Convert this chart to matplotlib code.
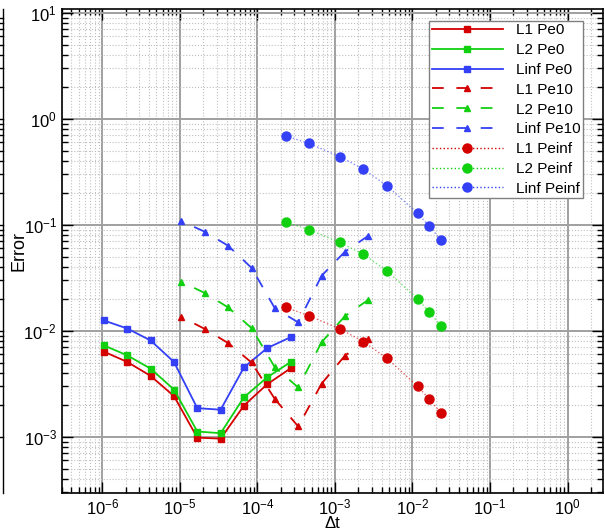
import numpy as np
import matplotlib.pyplot as plt
from matplotlib.lines import Line2D
from matplotlib.transforms import blended_transform_factory

plt.rcParams['font.family'] = ['Liberation Sans', 'DejaVu Sans']

# time steps
dt_pe0 = [1.05e-6, 2.1e-6, 4.2e-6, 8.4e-6, 1.68e-5, 3.36e-5, 6.72e-5, 1.34e-4, 2.69e-4]
dt_pe10 = [1.05e-5, 2.1e-5, 4.2e-5, 8.4e-5, 1.68e-4, 3.36e-4, 6.72e-4, 1.34e-3, 2.69e-3]
dt_peinf = [2.33e-4, 4.66e-4, 1.16e-3, 2.33e-3, 4.66e-3, 1.17e-2, 1.63e-2, 2.33e-2]

# errors
l1_pe0 = [6.35e-3, 5.08e-3, 3.75e-3, 2.42e-3, 9.8e-4, 9.6e-4, 1.97e-3, 3.13e-3, 4.43e-3]
l2_pe0 = [7.27e-3, 5.86e-3, 4.39e-3, 2.79e-3, 1.12e-3, 1.08e-3, 2.36e-3, 3.64e-3, 5.07e-3]
linf_pe0 = [1.25e-2, 1.05e-2, 8.1e-3, 5.08e-3, 1.86e-3, 1.8e-3, 4.52e-3, 6.87e-3, 8.7e-3]

l1_pe10 = [1.35e-2, 1.04e-2, 7.65e-3, 5.02e-3, 2.27e-3, 1.25e-3, 3.16e-3, 5.81e-3, 8.35e-3]
l2_pe10 = [2.9e-2, 2.27e-2, 1.66e-2, 1.06e-2, 4.52e-3, 2.92e-3, 7.78e-3, 1.37e-2, 1.96e-2]
linf_pe10 = [0.108, 0.086, 0.0634, 0.0393, 0.0163, 0.012, 0.033, 0.0556, 0.0787]

l1_peinf = [0.0166, 0.0138, 0.0104, 7.9e-3, 5.52e-3, 2.98e-3, 2.28e-3, 1.68e-3]
l2_peinf = [0.106, 0.0897, 0.0682, 0.0525, 0.0368, 0.0199, 0.0151, 0.0111]
linf_peinf = [0.69, 0.585, 0.438, 0.335, 0.234, 0.128, 0.0977, 0.072]

red = '#d40000'
green = '#10d010'
blue = '#3340f5'

fig = plt.figure(figsize=(6.05, 5.31), dpi=100)
ax = fig.add_axes([0.102, 0.072, 0.8947, 0.9105])

handles = []

# Pe0 : solid with squares
for y, c, lab in [(l1_pe0, red, 'L1 Pe0'), (l2_pe0, green, 'L2 Pe0'), (linf_pe0, blue, 'Linf Pe0')]:
    ax.plot(dt_pe0, y, '-', color=c, lw=1.3, marker='s', ms=4.5, zorder=4)
    handles.append(Line2D([], [], color=c, lw=1.3, marker='s', ms=4.5, label=lab))

# Pe10 : dashed with triangles, dash pattern restarts at each point
for y, c, lab in [(l1_pe10, red, 'L1 Pe10'), (l2_pe10, green, 'L2 Pe10'), (linf_pe10, blue, 'Linf Pe10')]:
    for i in range(len(y) - 1):
        ax.plot([dt_pe10[i + 1], dt_pe10[i]], [y[i + 1], y[i]], color=c, lw=1.3,
                dashes=(6.5, 7), zorder=4)
    ax.plot(dt_pe10, y, ls='none', color=c, marker='^', ms=5, zorder=5)
    handles.append(Line2D([], [], color=c, lw=1.3, dashes=(6.5, 7), marker='^', ms=5, label=lab))

# Peinf : dotted with circles
for y, c, lab in [(l1_peinf, red, 'L1 Peinf'), (l2_peinf, green, 'L2 Peinf'), (linf_peinf, blue, 'Linf Peinf')]:
    ax.plot(dt_peinf, y, ':', color=c, lw=1.0, alpha=0.6, zorder=4)
    ax.plot(dt_peinf, y, ls='none', color=c, marker='o', ms=6.5, zorder=5)
    handles.append(Line2D([], [], color=c, lw=1.0, ls=':', marker='o', ms=6.5, label=lab))

ax.set_xscale('log')
ax.set_yscale('log')
ax.set_xlim(3.0e-7, 2.86)
ax.set_ylim(2.96e-4, 10.8)

ax.grid(True, which='major', color='#a0a0a0', lw=1.4, ls='-')
ax.grid(True, which='minor', color='#c0c0c0', lw=0.8, ls=':')
ax.set_axisbelow(True)
ax.xaxis.set_major_locator(plt.LogLocator(base=10, numticks=20))
ax.xaxis.set_minor_locator(plt.LogLocator(base=10, subs=np.arange(2, 10), numticks=20))
ax.yaxis.set_minor_locator(plt.LogLocator(base=10, subs=np.arange(2, 10), numticks=20))
ax.tick_params(which='both', direction='in', top=True, right=True, labelsize=12)
ax.tick_params(which='major', length=8, width=1)
ax.tick_params(which='minor', length=4, width=1)
for s in ax.spines.values():
    s.set_linewidth(1.2)

ax.set_xlabel('Δt', fontsize=12, labelpad=-1)
ax.set_ylabel('Error', fontsize=13)
ax.yaxis.set_label_coords(-0.064, 0.5)

leg = ax.legend(handles=handles, loc='upper right', bbox_to_anchor=(0.9636, 0.9758),
                borderaxespad=0, fancybox=False, framealpha=1, edgecolor='#808080',
                fontsize=11, handlelength=4.7, handletextpad=0.85, borderpad=0.15,
                labelspacing=0.38)
leg.get_frame().set_linewidth(1.0)

# edge of a neighbouring plot that was cropped off on the left
edge = 0.0055
fig.add_artist(Line2D([edge, edge], [0.072, 0.9825], transform=fig.transFigure, color='k', lw=1))
tr = blended_transform_factory(fig.transFigure, ax.transData)
for dec in [1e-3, 1e-2, 1e-1, 1e0]:
    for m in range(1, 10):
        v = dec * m
        tick = edge if m > 1 else 0.0
        fig.add_artist(Line2D([0.0, edge], [v, v], transform=tr, color='k', lw=1))

fig.savefig('out.png', dpi=100)
